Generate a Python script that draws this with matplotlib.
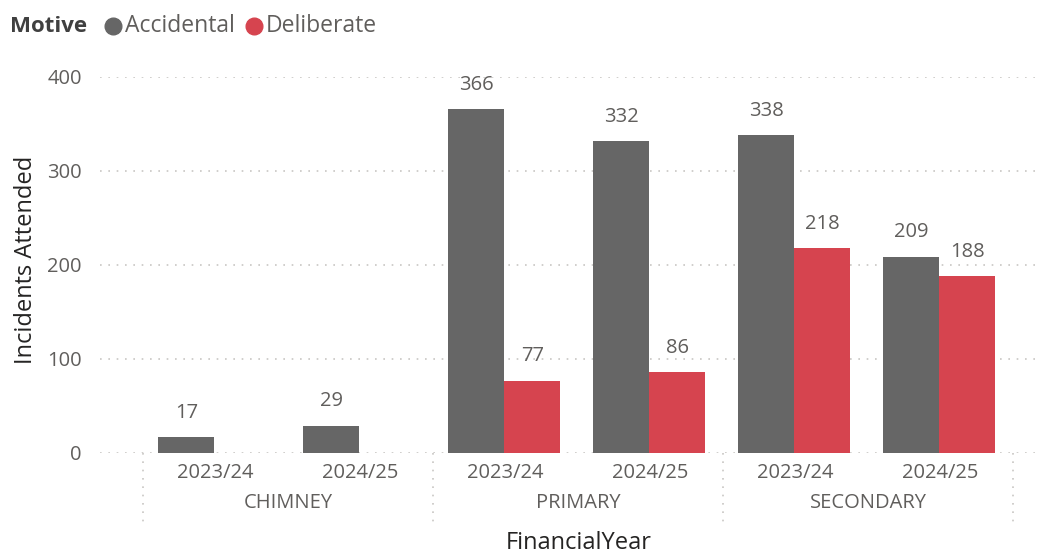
import numpy as np
import matplotlib
matplotlib.use("Agg")
import matplotlib.pyplot as plt
from matplotlib.lines import Line2D
import matplotlib.transforms as mtransforms

plt.rcParams['font.family'] = ['Open Sans', 'DejaVu Sans']

# data
groups = ['CHIMNEY', 'PRIMARY', 'SECONDARY']
years = ['2023/24', '2024/25']
accidental = [17, 29, 366, 332, 338, 209]
deliberate = [None, None, 77, 86, 218, 188]
yticks = [0, 100, 200, 300, 400]

c_acc = '#666666'
c_del = '#D6444F'
c_lbl = '#605E5C'
c_dark = '#252423'

W, H = 1041, 553
fig = plt.figure(figsize=(W / 100, H / 100), dpi=100)
ax = fig.add_axes([100 / W, 1 - 453 / H, 935 / W, 376 / H])

x = np.arange(len(accidental))
bw = 0.387
off = -0.008
acc_bars = ax.bar(x + off - bw / 2, accidental, width=bw, color=c_acc, zorder=3)
del_x = [xi + off + bw / 2 for xi, v in zip(x, deliberate) if v is not None]
del_v = [v for v in deliberate if v is not None]
del_bars = ax.bar(del_x, del_v, width=bw, color=c_del, zorder=3)

# value labels, ~25 px above bar tops
for bars in (acc_bars, del_bars):
    for b in bars:
        ax.annotate(f'{int(b.get_height())}',
                    xy=(b.get_x() + b.get_width() / 2, b.get_height()),
                    xytext=(0, 17.5), textcoords='offset points',
                    ha='center', va='center', fontsize=14.5, color=c_lbl,
                    annotation_clip=False)

ax.set_ylim(0, 400)
ax.set_xlim(-0.5 - 43 / 145, 5.5 + 22 / 145)
ax.set_yticks(yticks)
ax.yaxis.grid(True, linestyle=(0, (1, 4)), color='#C8C6C4', linewidth=1.2)
ax.set_axisbelow(True)
for s in ax.spines.values():
    s.set_visible(False)
ax.tick_params(axis='y', length=0, pad=13, labelsize=14.5, labelcolor=c_lbl)
ax.tick_params(axis='x', length=0, pad=14.4, labelsize=14.5, labelcolor=c_lbl)
ax.set_xticks(x)
ax.set_xticklabels(years * len(groups))
for t in ax.get_xticklabels():
    t.set_va('center')

# group labels and dividers under the axis
trans = mtransforms.blended_transform_factory(ax.transData, ax.transAxes)
px = 1 / 376
for i, g in enumerate(groups):
    ax.text(2 * i + 0.5, -50 * px, g, transform=trans, ha='center', va='center',
            fontsize=14.5, color=c_lbl)
for d in [-0.5, 1.5, 3.5, 5.5]:
    ax.add_line(Line2D([d, d], [0, -69 * px], transform=trans, clip_on=False,
                       linestyle=(0, (1, 4)), color='#C8C6C4', linewidth=1.2))

fig.text(26 / W, 1 - 260 / H, 'Incidents Attended', rotation=90, ha='center',
         va='center', fontsize=17, color=c_dark)
fig.text(579 / W, 1 - 543 / H, 'FinancialYear', ha='center', va='center',
         fontsize=17, color=c_dark)

# legend
fig.text(10 / W, 1 - 26 / H, 'Motive', ha='left', va='center', fontsize=16,
         fontweight='bold', color='#404040')
for cx, col, lab in [(113, c_acc, 'Accidental'), (254, c_del, 'Deliberate')]:
    fig.add_artist(Line2D([cx / W], [1 - 26 / H], marker='o', markersize=12,
                          color=col, transform=fig.transFigure))
    fig.text((cx + 12) / W, 1 - 26 / H, lab, ha='left', va='center',
             fontsize=16.5, color=c_lbl)

fig.savefig('out.png', dpi=100)
